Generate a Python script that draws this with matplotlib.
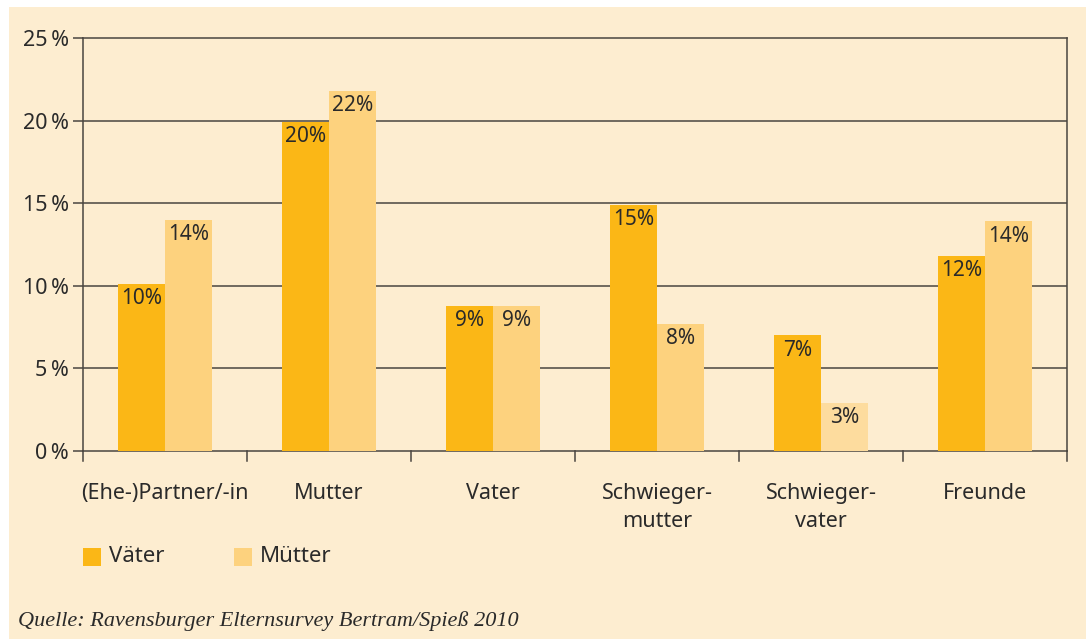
import matplotlib
matplotlib.use("Agg")
import matplotlib.pyplot as plt
import numpy as np
from matplotlib.patches import Rectangle

categories = ["(Ehe-)Partner/-in", "Mutter", "Vater", "Schwieger-\nmutter", "Schwieger-\nvater", "Freunde"]
vaeter = [10.1, 19.9, 8.8, 14.9, 7.0, 11.8]
muetter = [14.0, 21.8, 8.8, 7.7, 2.9, 13.9]
vaeter_labels = ["10%", "20%", "9%", "15%", "7%", "12%"]
muetter_labels = ["14%", "22%", "9%", "8%", "3%", "14%"]
yticks = [0, 5, 10, 15, 20, 25]
ytick_labels = ["0\u2009%", "5\u2009%", "10\u2009%", "15\u2009%", "20\u2009%", "25\u2009%"]
series_names = ["Väter", "Mütter"]
source = "Quelle: Ravensburger Elternsurvey Bertram/Spieß 2010"

W, H = 1086, 639
BG = "#FDEDD0"
C_V = "#FBB716"
C_M = "#FDD27E"
C_M_LIGHT = "#FDDC9E"
TXT = "#2a2a2a"
GRID = "#4a4540"

plt.rcParams['font.family'] = ['Noto Sans', 'DejaVu Sans']

fig = plt.figure(figsize=(W/100, H/100), dpi=100)
fig.patch.set_facecolor("white")
fig.patches.append(Rectangle((9/W, 0), 1 - 9/W, 1 - 7/H, transform=fig.transFigure,
                             facecolor=BG, edgecolor="none", zorder=-10))

ax = fig.add_axes([83/W, 1 - 451/H, (1067-83)/W, (451-38)/H])
ax.set_facecolor(BG)

n = len(categories)
x = np.arange(n)
bw = 0.287
bars_v = ax.bar(x - bw/2, vaeter, bw, color=C_V, zorder=3, linewidth=0)
mcols = [C_M_LIGHT if i == 4 else C_M for i in range(n)]
bars_m = ax.bar(x + bw/2, muetter, bw, color=mcols, zorder=3, linewidth=0)

for bars, labels in ((bars_v, vaeter_labels), (bars_m, muetter_labels)):
    for b, lab in zip(bars, labels):
        ax.annotate(lab, (b.get_x() + b.get_width()/2, b.get_height()),
                    xytext=(0, -3), textcoords="offset points", ha="center", va="top",
                    fontsize=15, color=TXT, zorder=4)

ax.set_xlim(-0.5, n - 0.5)
ax.set_ylim(0, 25)
ax.set_yticks(yticks)
ax.set_yticklabels(ytick_labels, fontsize=15.5, color=TXT)
for yv in yticks[1:-1]:
    ax.axhline(yv, color=GRID, linewidth=1.1, zorder=1)

ax.set_xticks(x)
ax.set_xticklabels(categories, fontsize=15.5, color=TXT, linespacing=1.45)
ax.tick_params(axis="x", length=0, pad=23)
ax.tick_params(axis="y", length=7, width=1.1, color=GRID, pad=3)
# category separator ticks
for b in np.arange(-0.5, n, 1.0):
    ax.plot([b, b], [0, -0.024], transform=ax.get_xaxis_transform(), color=GRID,
            linewidth=1.1, clip_on=False, zorder=5)
for s in ax.spines.values():
    s.set_color(GRID)
    s.set_linewidth(1.1)

# legend
lx, ly = 83, 548
for i, (name, col) in enumerate(zip(series_names, [C_V, C_M])):
    x0 = lx + i * 151
    fig.patches.append(Rectangle((x0/W, 1 - (ly+18)/H), 18/W, 18/H, transform=fig.transFigure,
                                 facecolor=col, edgecolor="none"))
    fig.text((x0 + 26)/W, 1 - (ly+9)/H, name, fontsize=16, color=TXT, va="center", ha="left")

fig.text(18/W, 1 - 621/H, source, fontsize=16, color=TXT, va="center", ha="left",
         family=["Liberation Serif", "DejaVu Serif"], style="italic")

fig.savefig("out.png", dpi=100, facecolor=fig.get_facecolor())
